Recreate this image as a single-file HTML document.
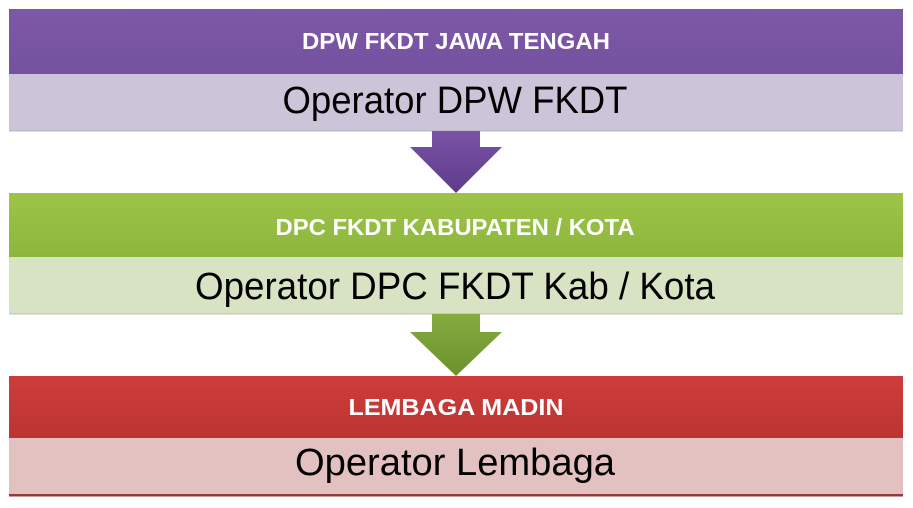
<!DOCTYPE html>
<html><head><meta charset="utf-8"><style>
html,body{margin:0;padding:0;background:#fff;width:913px;height:508px;overflow:hidden}
svg{display:block}
text{font-family:"Liberation Sans",sans-serif}
</style></head><body>
<svg width="913" height="508" viewBox="0 0 913 508" xmlns="http://www.w3.org/2000/svg">
<defs>
<linearGradient id="gp" x1="0" y1="0" x2="0" y2="1"><stop offset="0" stop-color="#7d58a8"/><stop offset="1" stop-color="#7452a0"/></linearGradient>
<linearGradient id="gg" x1="0" y1="0" x2="0" y2="1"><stop offset="0" stop-color="#9dc447"/><stop offset="1" stop-color="#8db63e"/></linearGradient>
<linearGradient id="gr" x1="0" y1="0" x2="0" y2="1"><stop offset="0" stop-color="#cd3c3a"/><stop offset="1" stop-color="#bb3533"/></linearGradient>
<linearGradient id="ap" x1="0" y1="0" x2="0" y2="1"><stop offset="0" stop-color="#7a52a6"/><stop offset="1" stop-color="#5e3c8a"/></linearGradient>
<linearGradient id="ag" x1="0" y1="0" x2="0" y2="1"><stop offset="0" stop-color="#86ab40"/><stop offset="1" stop-color="#6c912d"/></linearGradient>
</defs>
<!-- purple -->
<rect x="9" y="9" width="894" height="65" fill="url(#gp)"/>
<rect x="9" y="74" width="894" height="56" fill="#ccc5d9"/>
<rect x="9" y="130" width="894" height="1.5" fill="#bdb8c6"/>
<text x="456" y="49" text-anchor="middle" font-size="23" font-weight="bold" fill="#fff" textLength="308" lengthAdjust="spacingAndGlyphs">DPW FKDT JAWA TENGAH</text>
<text x="455" y="113" text-anchor="middle" font-size="38" fill="#000" textLength="345" lengthAdjust="spacingAndGlyphs">Operator DPW FKDT</text>
<polygon points="432,131 480,131 480,147 502,147 456,193 410,147 432,147" fill="url(#ap)"/>
<!-- green -->
<rect x="9" y="193" width="894" height="64" fill="url(#gg)"/>
<rect x="9" y="257" width="894" height="56" fill="#d7e3c3"/>
<rect x="9" y="313" width="894" height="1.5" fill="#c4cdb5"/>
<text x="455" y="235" text-anchor="middle" font-size="23" font-weight="bold" fill="#fff" textLength="359" lengthAdjust="spacingAndGlyphs">DPC FKDT KABUPATEN / KOTA</text>
<text x="455" y="299" text-anchor="middle" font-size="38" fill="#000" textLength="520" lengthAdjust="spacingAndGlyphs">Operator DPC FKDT Kab / Kota</text>
<polygon points="432,314 480,314 480,332 502,332 456,376 410,332 432,332" fill="url(#ag)"/>
<!-- red -->
<rect x="9" y="376" width="894" height="62" fill="url(#gr)"/>
<rect x="9" y="438" width="894" height="56" fill="#e3c1c1"/>
<rect x="9" y="494" width="894" height="2.5" fill="#8f3b3d"/>
<text x="456" y="415" text-anchor="middle" font-size="23" font-weight="bold" fill="#fff" textLength="215" lengthAdjust="spacingAndGlyphs">LEMBAGA MADIN</text>
<text x="455" y="475" text-anchor="middle" font-size="38" fill="#000" textLength="320" lengthAdjust="spacingAndGlyphs">Operator Lembaga</text>
</svg>
</body></html>
